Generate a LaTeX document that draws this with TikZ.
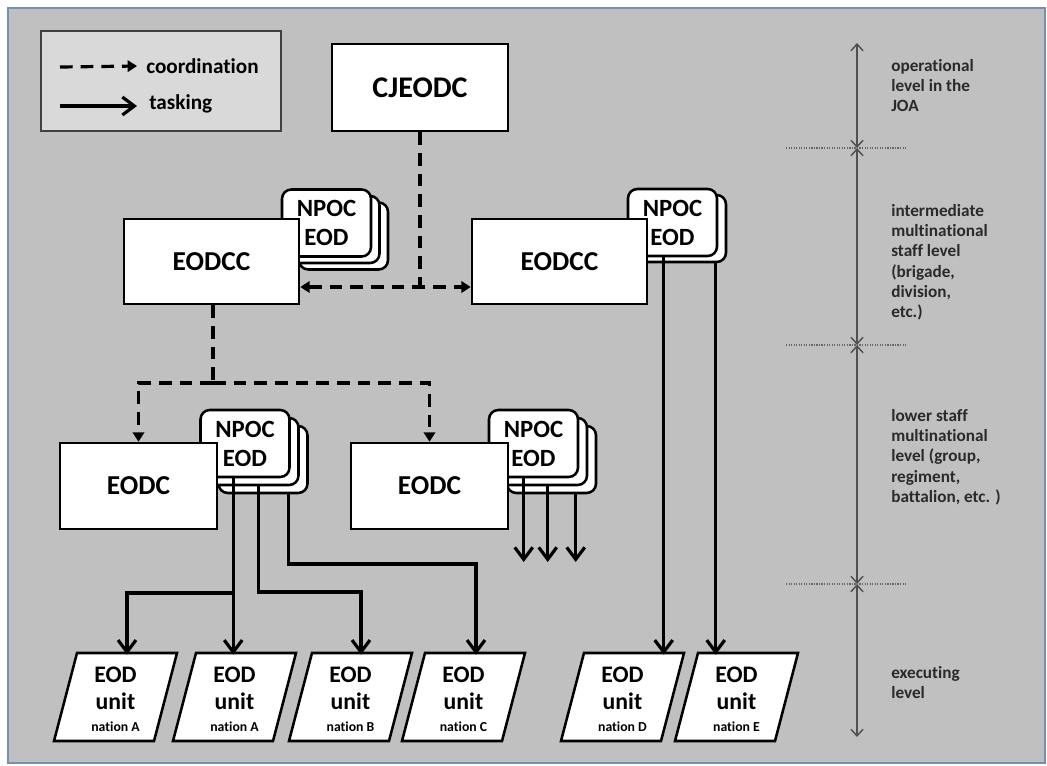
\documentclass[tikz,border=0pt]{standalone}
\usepackage{fontspec}
\setmainfont{Carlito}[Ligatures={NoCommon}]
\usetikzlibrary{arrows.meta,calc}
\definecolor{bggray}{HTML}{C0C0C0}
\definecolor{leggray}{HTML}{D9D9D9}
\definecolor{legborder}{HTML}{404040}
\definecolor{frameblue}{HTML}{7890B0}
\definecolor{framelight}{HTML}{B2C0D4}
\definecolor{lvltext}{HTML}{2A2A2A}
\definecolor{scalegray}{HTML}{505050}
\definecolor{dotgray}{HTML}{666666}
\begin{document}
\begin{tikzpicture}[x=0.75pt,y=-0.75pt,
  bigbox/.style={draw=black,fill=white,line width=1.9pt,inner sep=0pt,font=\bfseries\fontsize{20.5}{24}\selectfont},
  cardbox/.style={draw=black,fill=white,line width=1.9pt,rounded corners=7pt,minimum width=66.75pt,minimum height=50.25pt,inner sep=0pt,align=center,font=\bfseries\fontsize{18.6}{21.75}\selectfont},
  coord/.style={line width=2.4pt,dash pattern=on 9.5pt off 6pt},
  cohead/.style={-{Triangle[length=7pt,width=8.5pt]}},
  task/.style={line width=2.4pt,-{Straight Barb[length=9pt,width=13.5pt]}},
  unitbox/.style={inner sep=0pt,minimum width=75pt,minimum height=66pt,align=center,font=\bfseries\fontsize{17.8}{20.25}\selectfont},
  para/.style={draw=black,fill=white,line width=1.9pt},
  lvl/.style={anchor=north west,inner sep=0pt,align=left,text=lvltext,font=\bfseries\fontsize{12.9}{15.2}\selectfont},
  scalearr/.style={draw=scalegray,line width=1.1pt,{Straight Barb[length=5pt,width=9pt]}-{Straight Barb[length=5pt,width=9pt]}},
  dotline/.style={draw=dotgray,line width=0.9pt,dash pattern=on 0.9pt off 1pt},
  legtext/.style={anchor=west,inner sep=0pt,font=\bfseries\fontsize{15.9}{18}\selectfont}
]
\useasboundingbox (0,0) rectangle (1047,765);
% frame and background
\fill[white] (0,0) rectangle (1047,765);
\fill[bggray] (8,8) rectangle (1045,763);
\draw[frameblue,line width=1.8pt] (8,8) rectangle (1045,763);
\draw[framelight,line width=1pt] (11.5,11.5) rectangle (1041.5,759.5);

% legend
\node[draw=legborder,fill=leggray,line width=1.6pt,minimum width=180pt,minimum height=75pt] (lg) at (161,81) {};
\coordinate (la1) at (60,67);
\node[legtext,inner xsep=6.75pt] (lt1) at (137,66) {coordination};
\draw[coord,cohead] (la1) -- (lt1.west);
\coordinate (la2) at (60,106);
\node[legtext,inner xsep=9pt] (lt2) at (137,104) {tasking};
\draw[task] (la2) -- (la2 -| lt2.west);

% top
\node[bigbox,minimum width=132pt,minimum height=65.25pt,font=\bfseries\fontsize{22.5}{26}\selectfont] (cj) at (420,87.5) {CJEODC};

% left EODCC with stack
\node[cardbox] (s1c) at (343.5,236) {};
\node[cardbox] (s1b) at (335,229.5) {};
\node[cardbox] (s1a) at (326.5,223) {NPOC\\EOD};
\node[bigbox,minimum width=131.25pt,minimum height=63.75pt] (cc1) at (211.5,261.5) {EODCC};

% right EODCC with stack
\node[cardbox] (s2b) at (681.5,228.5) {};
\node[cardbox] (s2a) at (672.5,222.5) {NPOC\\EOD};
\node[bigbox,minimum width=131.25pt,minimum height=63.75pt] (cc2) at (559.5,261.5) {EODCC};

% left EODC with stack
\node[cardbox] (s3c) at (263,459.5) {};
\node[cardbox] (s3b) at (254,451.5) {};
\node[cardbox] (s3a) at (245,443.5) {NPOC\\EOD};
\node[bigbox,minimum width=117.75pt,minimum height=64.5pt] (c1) at (138.5,486) {EODC};

% right EODC with stack
\node[cardbox] (s4c) at (551.5,459.5) {};
\node[cardbox] (s4b) at (542.5,451.5) {};
\node[cardbox] (s4a) at (533.5,443.5) {NPOC\\EOD};
\node[bigbox,minimum width=117.75pt,minimum height=64.5pt] (c2) at (429.5,486) {EODC};

% EOD units
\foreach \cx/\nm/\lab in {115.5/u1/A,234.5/u2/A,350.5/u3/B,463.5/u4/C,622.5/u5/D,736.5/u6/E}{
  \draw[para] (\cx-38.5,653) -- (\cx+61.5,653) -- (\cx+38.5,741) -- (\cx-61.5,741) -- cycle;
  \node[unitbox] (\nm) at (\cx,699) {EOD\\unit\\[-4pt]{\fontsize{10.3}{12}\selectfont nation \lab}};
}

% coordination connectors
\coordinate (j1) at (420,287);
\draw[coord] (cj.south) -- (cj.south |- j1);
\draw[coord,{Triangle[length=7pt,width=8.5pt]}-{Triangle[length=7pt,width=8.5pt]}] (cc1.east |- j1) -- (cc2.west |- j1);
\coordinate (j2) at (213,383);
\draw[coord] (cc1.south -| j2) -- (j2);
\draw[coord,cohead] (j2) -| (c1.north);
\draw[coord,cohead] (j2) -| (c2.north);

% tasking connectors
\coordinate (t1) at ($(s3a.south west)+(34,0)$);
\coordinate (k1) at (127,593);
\draw[task] (t1) -- (t1 |- u2.north);
\draw[task] (t1 |- k1) -- (k1) -- (k1 |- u1.north);
\coordinate (t2) at ($(s3b.south west)+(50,0)$);
\coordinate (k2) at (361,592);
\draw[task] (t2) |- (k2) -- (k2 |- u3.north);
\coordinate (t3) at ($(s3c.south west)+(71,0)$);
\coordinate (k3) at (476,564);
\draw[task] (t3) |- (k3) -- (k3 |- u4.north);

\coordinate (ebase) at (0,562);
\coordinate (t4) at ($(s4a.south west)+(36,0)$);
\coordinate (t5) at ($(s4b.south west)+(51,0)$);
\coordinate (t6) at ($(s4c.south west)+(70,0)$);
\draw[task] (t4) -- (t4 |- ebase);
\draw[task] (t5) -- (t5 |- ebase);
\draw[task] (t6) -- (t6 |- ebase);

\coordinate (t7) at ($(s2a.south west)+(37,0)$);
\coordinate (t8) at ($(s2b.south west)+(80,0)$);
\draw[task] (t7) -- (t7 |- u5.north);
\draw[task] (t8) -- (t8 |- u6.north);

% level scale
\coordinate (l0) at (857,43);
\coordinate (l1) at (857,148);
\coordinate (l2) at (857,345);
\coordinate (l3) at (857,584);
\coordinate (l4) at (857,737);
\foreach \a/\b in {l0/l1,l1/l2,l2/l3,l3/l4} \draw[scalearr] (\a) -- (\b);
\foreach \p in {l1,l2,l3} \draw[dotline] ($(\p)+(-71,0)$) -- ($(\p)+(50,0)$);

\node[lvl] (r1) at (891,57) {\strut operational\\level in the\\JOA};
\node[lvl] (r2) at (891,202) {\strut intermediate\\multinational\\staff level\\(brigade,\\division,\\etc.)};
\node[lvl] (r3) at (891,407) {\strut lower staff\\multinational\\level (group,\\regiment,\\battalion, etc. )};
\node[lvl] (r4) at (891,664) {\strut executing\\level};
\end{tikzpicture}
\end{document}
